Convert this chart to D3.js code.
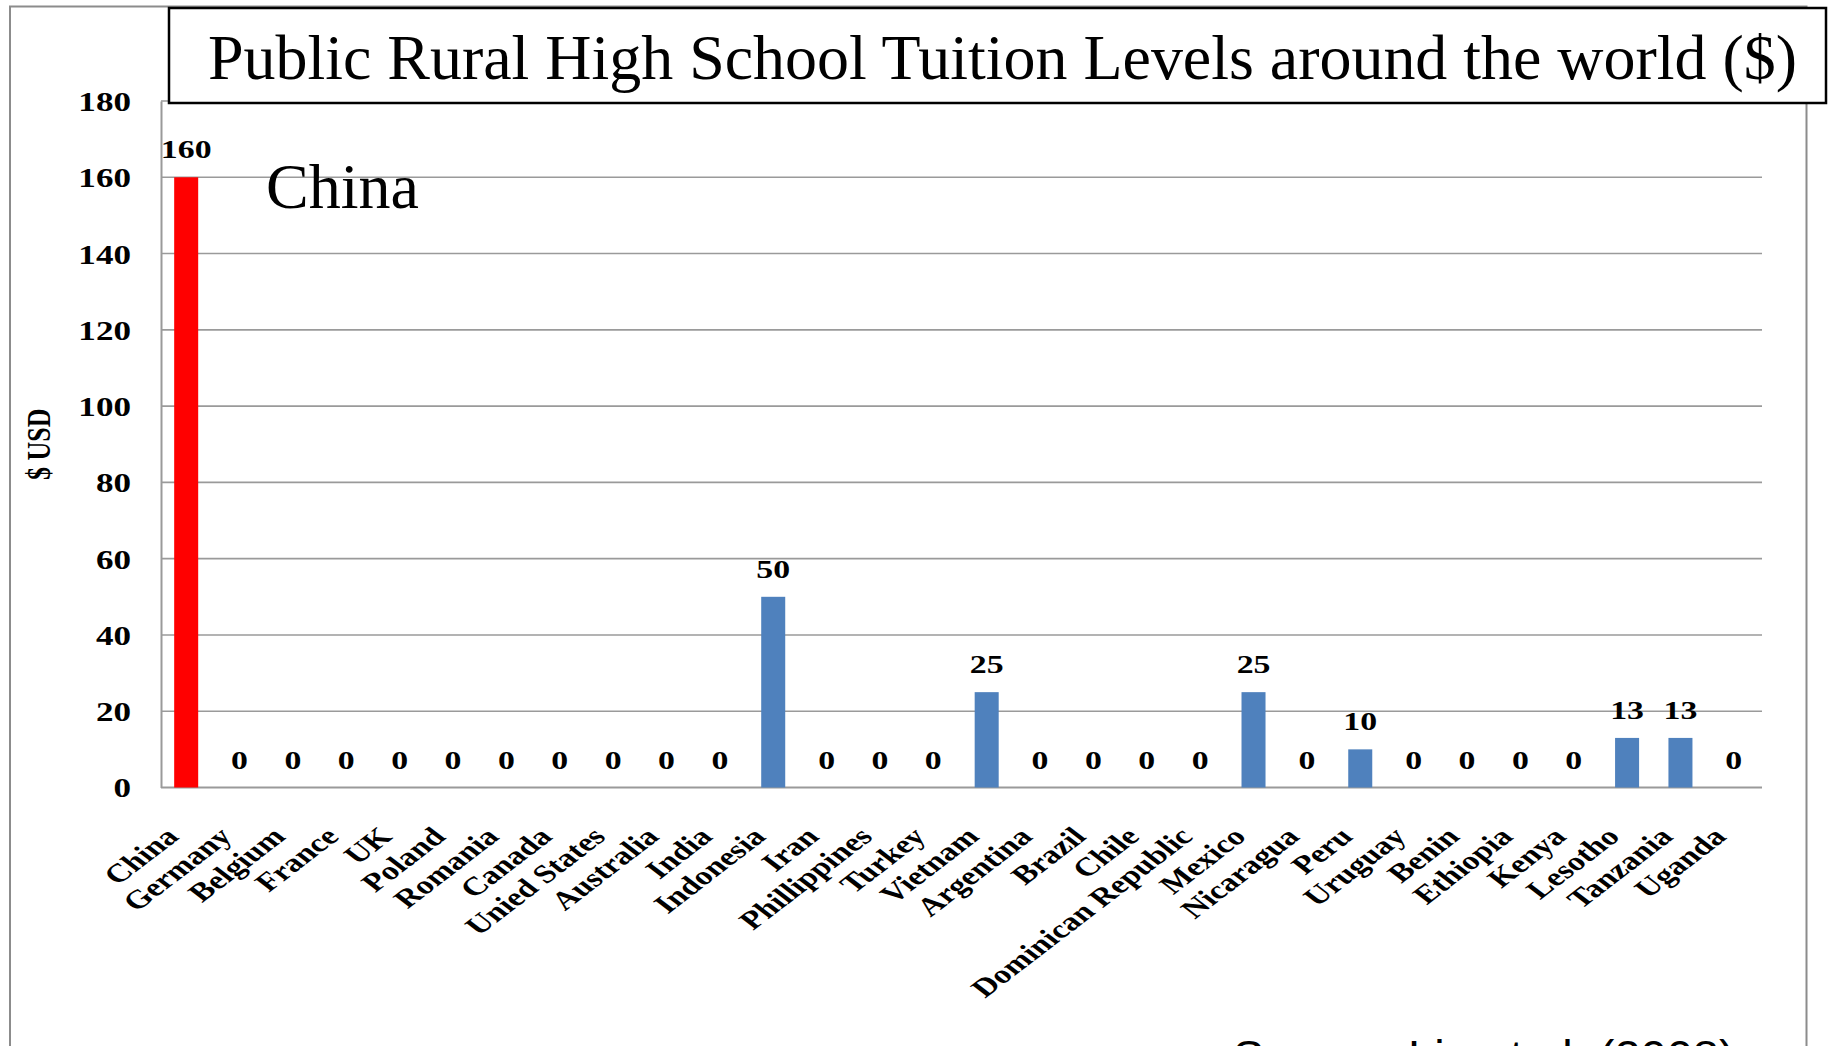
<!DOCTYPE html>
<html>
<head>
<meta charset="utf-8">
<script src="https://cdn.jsdelivr.net/npm/d3@7"></script>
<style>
  html, body { margin: 0; padding: 0; background: #fff; }
  svg { display: block; }
</style>
</head>
<body>
<svg id="chart" width="1829" height="1046"></svg>
<script>
// Tuition per country (USD)
const categories = ["China", "Germany", "Belgium", "France", "UK", "Poland", "Romania", "Canada",
  "Unied States", "Australia", "India", "Indonesia", "Iran", "Phillippines", "Turkey", "Vietnam",
  "Argentina", "Brazil", "Chile", "Dominican Republic", "Mexico", "Nicaragua", "Peru", "Uruguay",
  "Benin", "Ethiopia", "Kenya", "Lesotho", "Tanzania", "Uganda"];
const values = [160, 0, 0, 0, 0, 0, 0, 0, 0, 0, 0, 50, 0, 0, 0, 25, 0, 0, 0, 0, 25, 0, 10, 0, 0, 0, 0, 13, 13, 0];
const highlighted = ["China"];
const yTicks = [0, 20, 40, 60, 80, 100, 120, 140, 160, 180];

const titleText = "Public Rural High School Tuition Levels around the world ($)";
const yAxisTitle = "$ USD";
const annotation = "China";
const sourceText = "Source: Liu et al. (2008)";

const SERIF = "'Liberation Serif', 'Times New Roman', serif";
const SANS = "'Liberation Sans', Arial, sans-serif";

const svg = d3.select("#chart");

// Plot area geometry
const plot = { left: 161, right: 1762, top: 101, bottom: 787.5 };
// Chart text is drawn horizontally widened, as in the original slide
const STRETCH = 1.3;

const x = d3.scaleBand()
  .domain(categories)
  .range([159.5, 1760.5])
  .paddingInner(0.55)
  .paddingOuter(0.275);

const y = d3.scaleLinear()
  .domain([0, 180])
  .range([plot.bottom, plot.top]);

const RED = "#ff0000", BLUE = "#4f81bd", GRID = "#9a9a9a";

// Outer slide frame
svg.append("path")
  .attr("d", `M10,1046 V6.5 H1806.5 V1046`)
  .attr("fill", "none")
  .attr("stroke", "#8c8c8c")
  .attr("stroke-width", 2);

// Horizontal gridlines
svg.append("g")
  .selectAll("line")
  .data(yTicks.filter(d => d > 0))
  .join("line")
  .attr("x1", plot.left)
  .attr("x2", plot.right)
  .attr("y1", d => y(d))
  .attr("y2", d => y(d))
  .attr("stroke", GRID)
  .attr("stroke-width", 1.6);

// Value axis (left)
const yAxis = d3.axisLeft(y).tickValues(yTicks).tickSize(0);
const yAxisG = svg.append("g")
  .attr("transform", `translate(${plot.left},0)`)
  .call(yAxis);
yAxisG.select(".domain").attr("stroke", GRID).attr("stroke-width", 2);
yAxisG.selectAll("text")
  .style("font-family", SERIF)
  .attr("font-weight", "bold")
  .attr("font-size", 27)
  .attr("fill", "#000")
  .attr("x", 0)
  .attr("dy", "0.35em")
  .attr("transform", `translate(${131 - plot.left},0) scale(${STRETCH},1)`);

// Category axis (bottom)
const xAxis = d3.axisBottom(x).tickSize(0).tickFormat("");
const xAxisG = svg.append("g")
  .attr("transform", `translate(0,${plot.bottom})`)
  .call(xAxis);
xAxisG.select(".domain")
  .attr("d", `M${plot.left},0H${plot.right}`)
  .attr("stroke", GRID).attr("stroke-width", 2);

const rows = categories.map((c, i) => ({ c, v: values[i] }));

// Bars
svg.append("g")
  .selectAll("rect")
  .data(rows)
  .join("rect")
  .attr("x", d => x(d.c))
  .attr("width", x.bandwidth())
  .attr("y", d => y(d.v))
  .attr("height", d => y(0) - y(d.v))
  .attr("fill", d => highlighted.includes(d.c) ? RED : BLUE);

// Value labels above each bar
svg.append("g")
  .selectAll("text")
  .data(rows)
  .join("text")
  .attr("transform", d => `translate(${x(d.c) + x.bandwidth() / 2},${y(d.v) - 19}) scale(${STRETCH},1)`)
  .attr("text-anchor", "middle")
  .style("font-family", SERIF)
  .attr("font-weight", "bold")
  .attr("font-size", 26)
  .text(d => d.v);

// Rotated category labels
svg.append("g")
  .selectAll("text")
  .data(categories)
  .join("text")
  .attr("transform", d => `translate(${x(d) + x.bandwidth() / 2 - 6},838) scale(${STRETCH},1) rotate(-45)`)
  .attr("text-anchor", "end")
  .style("font-family", SERIF)
  .attr("font-weight", "bold")
  .attr("font-size", 26)
  .text(d => d);

// Y axis title
svg.append("text")
  .attr("transform", `translate(50,${(plot.top + plot.bottom) / 2}) scale(${STRETCH},1) rotate(-90)`)
  .attr("text-anchor", "middle")
  .style("font-family", SERIF)
  .attr("font-weight", "bold")
  .attr("font-size", 26)
  .text(yAxisTitle);

// Annotation inside the plot
svg.append("text")
  .attr("x", 266)
  .attr("y", 208)
  .style("font-family", SERIF)
  .attr("font-size", 64)
  .text(annotation);

// Title box
svg.append("rect")
  .attr("x", 169)
  .attr("y", 8)
  .attr("width", 1657)
  .attr("height", 95)
  .attr("fill", "#fff")
  .attr("stroke", "#000")
  .attr("stroke-width", 2.5);

svg.append("text")
  .attr("x", 208)
  .attr("y", 79)
  .style("font-family", SERIF)
  .attr("font-size", 64)
  .attr("textLength", 1589)
  .attr("lengthAdjust", "spacingAndGlyphs")
  .text(titleText);

// Source note (runs off the bottom edge)
svg.append("text")
  .attr("x", 1233)
  .attr("y", 1073)
  .style("font-family", SANS)
  .attr("font-size", 47)
  .text(sourceText);
</script>
</body>
</html>
